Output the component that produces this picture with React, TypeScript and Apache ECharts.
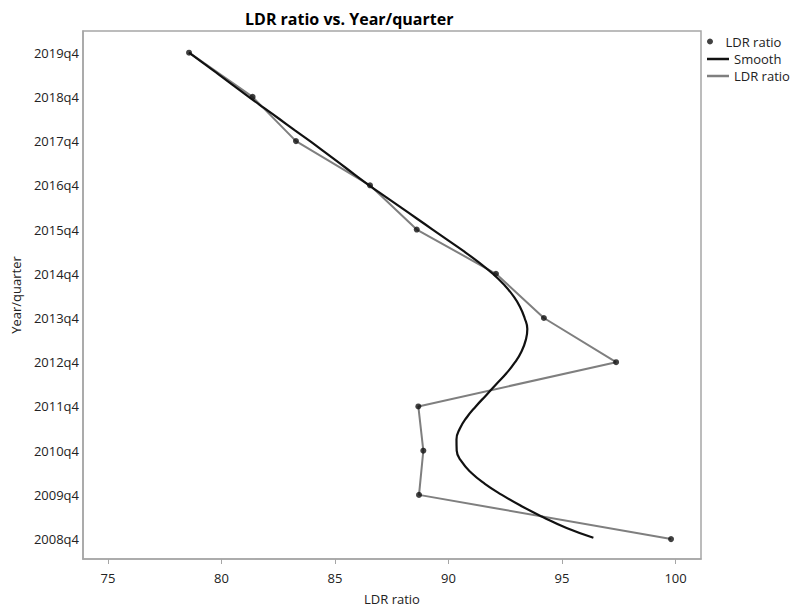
import React, { useEffect, useRef } from "react";
import * as echarts from "echarts";

// Year/quarter (numeric year, label "YYYYq4") and LDR ratio observations
const years = [2019, 2018, 2017, 2016, 2015, 2014, 2013, 2012, 2011, 2010, 2009, 2008];
const ldrRatio = [78.57, 81.37, 83.28, 86.54, 88.6, 92.09, 94.2, 97.38, 88.67, 88.89, 88.7, 99.8];

// Smooth (loess-type) fit, quarter-year steps
const smoothYears = [
  2019, 2018.75, 2018.5, 2018.25, 2018, 2017.75, 2017.5, 2017.25, 2017, 2016.75, 2016.5, 2016.25,
  2016, 2015.75, 2015.5, 2015.25, 2015, 2014.75, 2014.5, 2014.25, 2014, 2013.75, 2013.5, 2013.25,
  2013, 2012.75, 2012.5, 2012.25, 2012, 2011.75, 2011.5, 2011.25, 2011, 2010.75, 2010.5, 2010.25,
  2010, 2009.75, 2009.5, 2009.25, 2009, 2008.75, 2008.5, 2008.25, 2008.03,
];
const smoothValues = [
  78.57, 79.23, 79.9, 80.55, 81.2, 81.87, 82.55, 83.22, 83.9, 84.55, 85.2, 85.85,
  86.5, 87.2, 87.9, 88.6, 89.3, 90.0, 90.7, 91.35, 91.95, 92.45, 92.85, 93.15,
  93.35, 93.47, 93.4, 93.22, 92.93, 92.55, 92.1, 91.65, 91.2, 90.8, 90.5, 90.35,
  90.36, 90.58, 91.0, 91.6, 92.35, 93.2, 94.15, 95.2, 96.38,
];

const yTickYears = [2008, 2009, 2010, 2011, 2012, 2013, 2014, 2015, 2016, 2017, 2018, 2019];
const xTicks = [75, 80, 85, 90, 95, 100];

const FONT = "'Open Sans', 'Noto Sans', sans-serif";

export default function App() {
  const ref = useRef<HTMLDivElement>(null);
  useEffect(() => {
    if (!ref.current) return;
    const chart = echarts.init(ref.current, undefined, { renderer: "svg" });
    const pts = years.map((y, i) => [ldrRatio[i], y]);
    const smooth = smoothYears.map((y, i) => [smoothValues[i], y]);
    chart.setOption({
      animation: false,
      backgroundColor: "#ffffff",
      title: {
        text: "LDR ratio vs. Year/quarter",
        left: 240,
        top: 6,
        textStyle: { fontFamily: FONT, fontWeight: "bold", fontSize: 16, color: "#000" },
      },
      legend: [
        {
          orient: "vertical",
          left: 707,
          top: 35,
          padding: 0,
          itemWidth: 21,
          itemHeight: 6,
          data: ["LDR ratio"],
          textStyle: { fontFamily: FONT, fontSize: 13, color: "#222" },
        },
        {
          orient: "vertical",
          left: 707,
          top: 51,
          padding: 0,
          itemWidth: 22,
          itemHeight: 2.5,
          itemGap: 1,
          icon: "rect",
          data: ["Smooth", "LDR ratio "],
          formatter: (n: string) => n.trim(),
          textStyle: { fontFamily: FONT, fontSize: 13, color: "#222", lineHeight: 16 },
        },
      ],
      grid: {
        left: 83,
        top: 31,
        right: 92,
        bottom: 48,
        show: true,
        borderColor: "#a6a6a6",
        borderWidth: 1.5,
        containLabel: false,
      },
      xAxis: {
        type: "value",
        min: 73.9,
        max: 101.12,
        name: "LDR ratio",
        nameLocation: "middle",
        nameGap: 33,
        nameTextStyle: { fontFamily: FONT, fontSize: 13, color: "#222" },
        axisLine: { show: true, lineStyle: { color: "#a6a6a6", width: 1.5 } },
        axisTick: { show: true, length: 5, customValues: xTicks, lineStyle: { color: "#a6a6a6" } },
        axisLabel: {
          customValues: xTicks,
          margin: 12,
          fontFamily: FONT,
          fontSize: 13,
          color: "#222",
        },
        splitLine: { show: false },
      },
      yAxis: {
        type: "value",
        min: 2007.55,
        max: 2019.49,
        name: "Year/quarter",
        nameLocation: "middle",
        nameRotate: 90,
        nameGap: 58,
        nameTextStyle: { fontFamily: FONT, fontSize: 13, color: "#222" },
        axisLine: { show: true, lineStyle: { color: "#a6a6a6", width: 1.5 } },
        axisTick: { show: false },
        axisLabel: {
          customValues: yTickYears,
          margin: 4,
          formatter: (v: number) => `${v}q4`,
          fontFamily: FONT,
          fontSize: 13,
          color: "#222",
        },
        splitLine: { show: false },
      },
      series: [
        {
          name: "LDR ratio ",
          type: "line",
          data: pts,
          symbol: "none",
          lineStyle: { color: "#7f7f7f", width: 2 },
          itemStyle: { color: "#7f7f7f" },
          z: 2,
        },
        {
          name: "Smooth",
          type: "line",
          data: smooth,
          smooth: 0.5,
          symbol: "none",
          lineStyle: { color: "#111", width: 2.2 },
          itemStyle: { color: "#111" },
          z: 3,
        },
        {
          name: "LDR ratio",
          type: "scatter",
          data: pts,
          symbol: "circle",
          symbolSize: 6,
          itemStyle: { color: "#111" },
          z: 4,
        },
      ],
    });
    return () => chart.dispose();
  }, []);
  return (
    <div
      ref={ref}
      style={{ position: "absolute", left: 0, top: 0, width: 793, height: 610 }}
    />
  );
}
